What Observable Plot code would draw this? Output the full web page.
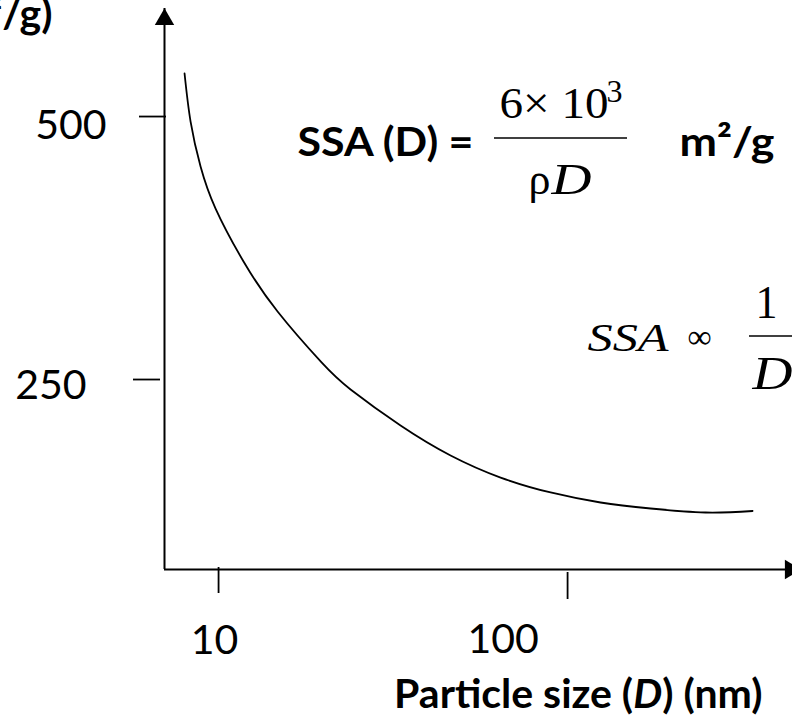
<!DOCTYPE html>
<html>
<head>
<meta charset="utf-8">
<script src="https://cdn.jsdelivr.net/npm/d3@7"></script>
<script src="https://cdn.jsdelivr.net/npm/@observablehq/plot@0.6"></script>
<style>
  html, body { margin: 0; padding: 0; background: #fff; overflow: hidden; }
</style>
</head>
<body>
<div id="chart"></div>
<script>
const particleSizeNm = [7.99, 8.314, 8.880, 9.804, 11.79, 14.76, 19.73, 23.89, 33.22, 46.21, 64.28, 89.39, 124.3, 172.9, 248.5, 338.9];
const ssaM2g        = [540.9, 495.2, 452.5, 412.5, 362.2, 314.6, 266.2, 240.5, 206.3, 177.8, 156.8, 142.6, 133.1, 127.4, 123.6, 125.0];

const xTicks = [10, 100];
const xTickLabels = ["10", "100"];
const yTicks = [250, 500];
const yTickLabels = ["250", "500"];

const xTitle = "Particle size (D) (nm)";
const yTitle = "SSA (m²/g)";

const formulaLeft = "SSA (D) =";
const formulaNumerator = "6× 10";
const formulaExponent = "3";
const formulaRho = "ρ";
const formulaD = "D";
const formulaUnit = "m²/g";
const propLeft = "SSA";
const propSymbol = "∞";
const propNumerator = "1";
const propDenominator = "D";

// scale configuration
const xDomain = [7.0, 441];
const yDomain = [69.4, 602.7];

// ---- layout / styles ----
const W = 792, H = 718;
const mL = 164, mT = 8, mR = 0, mB = 149;
const sans = "Lato, 'Open Sans', sans-serif";
const serif = "'Liberation Serif', 'DejaVu Serif', 'Times New Roman', serif";

// annotation placed by left x / baseline in page pixels relative to frame
const at = (x, baseline, fs, anchor = "start") => ({
  frameAnchor: "top-left", lineAnchor: "middle", textAnchor: anchor,
  dx: x - mL, dy: baseline - mT - 0.32 * fs, fontSize: fs
});

const data = particleSizeNm.map((d, i) => ({size: d, ssa: ssaM2g[i]}));

const yTickStyle = [{dx: -4}, {dx: 2}];          // for 250, 500
const yLabelStyle = [{dx: -78, dy: 6}, {dx: -58, dy: 9}];
const xTickStyle = [{dy: -2, tickSize: 26}, {dy: 3, tickSize: 27}];
const xLabelStyle = [{dx: -4, dy: 71}, {dx: -64.5, dy: 70}];

const fractionBars = [
  {x1: 494, x2: 627, y: 138},
  {x1: 749, x2: 800, y: 336}
];

const marks = [
  // axis lines
  Plot.ruleX([xDomain[0]], {stroke: "#000", strokeWidth: 2}),
  Plot.ruleY([yDomain[0]], {stroke: "#000", strokeWidth: 2}),
  // arrowheads
  Plot.dot([0], {frameAnchor: "top-left", symbol: "triangle", r: 7.2, fill: "#000", stroke: "none", dy: 11}),
  Plot.dot([0], {frameAnchor: "bottom-right", symbol: "triangle", r: 7.2, fill: "#000", stroke: "none", rotate: 90, dx: -2}),
  // y ticks
  ...yTicks.map((t, i) => Plot.axisY([t], {anchor: "left", tickSize: 27, tickFormat: () => "", fill: "none", stroke: "#000", strokeWidth: 1.8, label: null, ...yTickStyle[i]})),
  // x ticks
  ...xTicks.map((t, i) => Plot.axisX([t], {anchor: "bottom", tickFormat: () => "", fill: "none", stroke: "#000", strokeWidth: 1.8, label: null, ...xTickStyle[i]})),
  // y tick labels
  ...yTicks.map((t, i) => Plot.text([t], {y: d => d, text: () => yTickLabels[i], frameAnchor: "left", lineAnchor: "middle", textAnchor: "end", fontSize: 41, fontFamily: sans, fill: "#000", ...yLabelStyle[i]})),
  // x tick labels
  ...xTicks.map((t, i) => Plot.text([t], {x: d => d, text: () => xTickLabels[i], frameAnchor: "bottom", lineAnchor: "middle", textAnchor: "middle", fontSize: 41, fontFamily: sans, fill: "#000", ...xLabelStyle[i]})),
  // curve
  Plot.line(data, {x: "size", y: "ssa", curve: "natural", stroke: "#000", strokeWidth: 1.8}),
  // titles
  Plot.text([xTitle], {text: d => d, frameAnchor: "bottom-right", lineAnchor: "middle", textAnchor: "end", dx: -30, dy: 707 - 569 - 0.32 * 41, fontSize: 41, fontWeight: "bold", fontFamily: sans, fill: "#000"}),
  Plot.text([yTitle], {text: d => d, ...at(52, 27, 41, "end"), fontWeight: "bold", fontFamily: sans, fill: "#000"}),
  // formula SSA(D) = 6x10^3 / (rho D)  m2/g
  Plot.text([formulaLeft], {text: d => d, ...at(297, 155, 41), fontWeight: "bold", fontFamily: sans, fill: "#000"}),
  Plot.text([formulaNumerator], {text: d => d, ...at(499, 117, 44), fontFamily: serif, fill: "#000"}),
  Plot.text([formulaExponent], {text: d => d, ...at(606, 101, 32), fontFamily: serif, fill: "#000"}),
  Plot.text([formulaRho], {text: d => d, ...at(528, 193, 44), fontFamily: serif, fill: "#000"}),
  Plot.text([formulaD], {text: d => d, ...at(551, 193, 44), fontFamily: serif, fontStyle: "italic", fill: "#000"}),
  Plot.text([formulaUnit], {text: d => d, ...at(679, 155, 41), fontWeight: "bold", fontFamily: sans, fill: "#000"}),
  // SSA ∝ 1/D
  Plot.text([propLeft], {text: d => d, ...at(587, 350, 41), fontFamily: serif, fontStyle: "italic", fill: "#000"}),
  Plot.text([propSymbol], {text: d => d, ...at(699, 347, 34, "middle"), fontFamily: serif, fill: "#000"}),
  Plot.text([propNumerator], {text: d => d, ...at(755, 317, 46), fontFamily: serif, fill: "#000"}),
  Plot.text([propDenominator], {text: d => d, ...at(752, 388, 46), fontFamily: serif, fontStyle: "italic", fill: "#000"}),
  // fraction bars
  () => {
    const g = d3.create("svg:g");
    for (const b of fractionBars) {
      g.append("line").attr("x1", b.x1).attr("x2", b.x2).attr("y1", b.y).attr("y2", b.y)
        .attr("stroke", "#000").attr("stroke-width", 1.6);
    }
    return g.node();
  }
];

const svg = Plot.plot({
  width: W, height: H,
  marginLeft: mL, marginTop: mT, marginRight: mR, marginBottom: mB,
  x: {type: "log", domain: xDomain, axis: null},
  y: {type: "linear", domain: yDomain, axis: null},
  style: {background: "#fff", color: "#000", fontFamily: sans},
  marks
});

// stretch equation glyphs like the reference's equation objects
const stretch = new Map([
  [formulaNumerator, 109], [propLeft, 81], [formulaD, 40], [propNumerator, 22],
  [formulaLeft, 176], [formulaUnit, 95]
]);
for (const t of svg.querySelectorAll("text")) {
  const s = t.textContent;
  if (stretch.has(s)) {
    t.setAttribute("textLength", stretch.get(s));
    t.setAttribute("lengthAdjust", "spacingAndGlyphs");
  }
  if (s === xTitle) {
    const parts = [["Particle size (", null], ["D", "italic"], [") (nm)", null]];
    t.textContent = "";
    for (const [str, style] of parts) {
      const ts = document.createElementNS("http://www.w3.org/2000/svg", "tspan");
      ts.textContent = str;
      if (style) ts.setAttribute("font-style", style);
      t.appendChild(ts);
    }
  }
}

document.getElementById("chart").appendChild(svg);
</script>
</body>
</html>
